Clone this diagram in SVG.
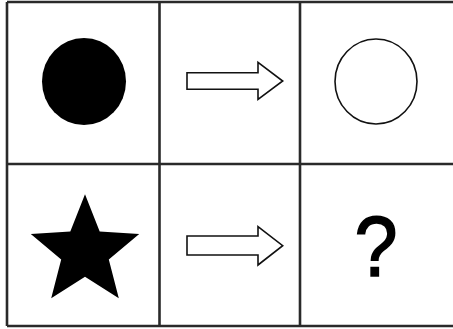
<svg xmlns="http://www.w3.org/2000/svg" width="453" height="329" viewBox="0 0 453 329">
<style>
.grid{stroke:#2a2a2a;stroke-width:2.6;fill:none}
.arrow{fill:#fff;stroke:#111;stroke-width:1.6;stroke-linejoin:miter}
.q{font-family:"Liberation Sans",Arial,sans-serif;font-size:86px;fill:#000;stroke:#000;stroke-width:1.6}
</style>
<rect width="453" height="329" fill="#fff"/>
<g id="grid" class="grid">
<line x1="7" y1="2" x2="453" y2="2"/>
<line x1="7" y1="164" x2="453" y2="164"/>
<line x1="7" y1="326" x2="453" y2="326"/>
<line x1="7" y1="2" x2="7" y2="326"/>
<line x1="159.5" y1="2" x2="159.5" y2="326"/>
<line x1="300" y1="2" x2="300" y2="326"/>
</g>
<g id="filled-circle"><ellipse cx="84" cy="81.5" rx="42" ry="43.5" fill="#000"/></g>
<g id="arrow1"><path class="arrow" d="M187,72.7 H258 V62.3 L282.7,81 L258,99.3 V89.3 H187 Z"/></g>
<g id="hollow-circle"><ellipse cx="376" cy="81.5" rx="41" ry="42.5" fill="#fff" stroke="#111" stroke-width="1.6"/></g>
<g id="star"><polygon fill="#000" points="85,194.3 99.7,231.6 139.2,234 108.8,259.5 118.8,298.3 85,276.8 51.2,298.3 61.2,259.5 30.8,234 70.3,231.6"/></g>
<g id="arrow2"><path class="arrow" d="M187,236 H258 V226.7 L282.7,245.7 L258,265 V255 H187 Z"/></g>
<g id="question" transform="translate(376,0) scale(0.9,1)"><text class="q" x="0" y="276" text-anchor="middle">?</text></g>
</svg>
